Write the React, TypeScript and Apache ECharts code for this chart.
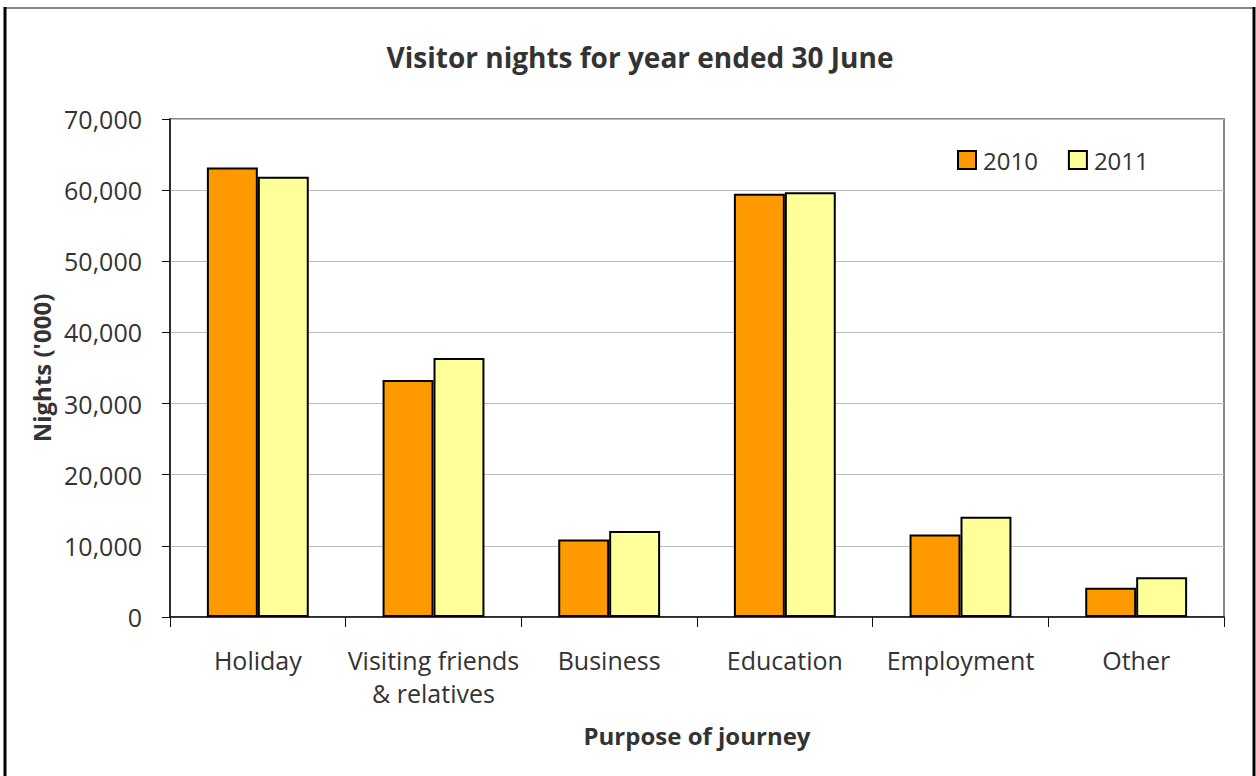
import React, { useEffect, useRef } from "react";
import * as echarts from "echarts";

const categories = ["Holiday", "Visiting friends\n& relatives", "Business", "Education", "Employment", "Other"];
const values2010 = [63200, 33300, 10900, 59500, 11600, 4100];
const values2011 = [61900, 36400, 12100, 59700, 14100, 5600];
const seriesNames = ["2010", "2011"];
const yTicks = { min: 0, max: 70000, interval: 10000 };

const FONT = "'Open Sans', 'Noto Sans', sans-serif";
const TXT = "#333333";

export default function App() {
  const ref = useRef<HTMLDivElement>(null);
  useEffect(() => {
    document.body.style.margin = "0";
    const chart = echarts.init(ref.current!, null, { renderer: "svg" });
    chart.setOption({
      animation: false,
      backgroundColor: "#ffffff",
      textStyle: { fontFamily: FONT, color: TXT },
      title: {
        text: "Visitor nights for year ended 30 June",
        left: 635,
        top: 38,
        textAlign: "center",
        textStyle: { fontFamily: FONT, fontSize: 28, fontWeight: "bold", color: TXT },
      },
      legend: {
        data: seriesNames,
        left: 952,
        top: 143,
        itemWidth: 18,
        itemHeight: 18,
        itemGap: 30,
        icon: "rect",
        textStyle: { fontFamily: FONT, fontSize: 24, color: TXT, padding: [0, 0, 0, 2] },
      },
      grid: {
        left: 170,
        right: 32,
        top: 119,
        bottom: 159,
        show: true,
        borderColor: "#888888",
        borderWidth: 2,
        containLabel: false,
      },
      xAxis: {
        type: "category",
        data: categories,
        name: "Purpose of journey",
        nameLocation: "middle",
        nameGap: 106,
        nameTextStyle: { fontFamily: FONT, fontSize: 24, fontWeight: "bold", color: TXT },
        axisLine: { show: true, lineStyle: { color: "#111", width: 1.5 } },
        axisTick: { show: true, length: 10, alignWithLabel: false, lineStyle: { color: "#111" } },
        axisLabel: {
          fontFamily: FONT,
          fontSize: 25,
          color: TXT,
          margin: 26,
          lineHeight: 33,
          interval: 0,
        },
      },
      yAxis: {
        type: "value",
        min: yTicks.min,
        max: yTicks.max,
        interval: yTicks.interval,
        name: "Nights ('000)",
        nameLocation: "middle",
        nameGap: 116,
        nameTextStyle: { fontFamily: FONT, fontSize: 24, fontWeight: "bold", color: TXT },
        axisLine: { show: true, lineStyle: { color: "#111", width: 1.5 } },
        axisTick: { show: true, length: 8, inside: false, lineStyle: { color: "#111" } },
        splitLine: { show: true, lineStyle: { color: "#bbbbbb", width: 1 } },
        axisLabel: {
          fontFamily: FONT,
          fontSize: 25,
          color: TXT,
          margin: 28,
          formatter: (v: number) => v.toLocaleString("en-US"),
        },
      },
      series: [
        {
          name: seriesNames[0],
          type: "bar",
          data: values2010,
          barGap: "0%",
          barCategoryGap: "42%",
          itemStyle: { color: "#FF9900", borderColor: "#000000", borderWidth: 2 },
        },
        {
          name: seriesNames[1],
          type: "bar",
          data: values2011,
          barGap: "0%",
          barCategoryGap: "42%",
          itemStyle: { color: "#FFFF99", borderColor: "#000000", borderWidth: 2 },
        },
      ],
      graphic: [
        { type: "line", shape: { x1: 5, y1: 8, x2: 1254, y2: 8 }, style: { stroke: "#888888", lineWidth: 2 } },
        { type: "line", shape: { x1: 5, y1: 7, x2: 5, y2: 780 }, style: { stroke: "#000000", lineWidth: 3 } },
        { type: "line", shape: { x1: 1254, y1: 7, x2: 1254, y2: 780 }, style: { stroke: "#000000", lineWidth: 3 } },
      ],
    });
    return () => chart.dispose();
  }, []);
  return <div ref={ref} style={{ width: 1256, height: 776 }} />;
}
